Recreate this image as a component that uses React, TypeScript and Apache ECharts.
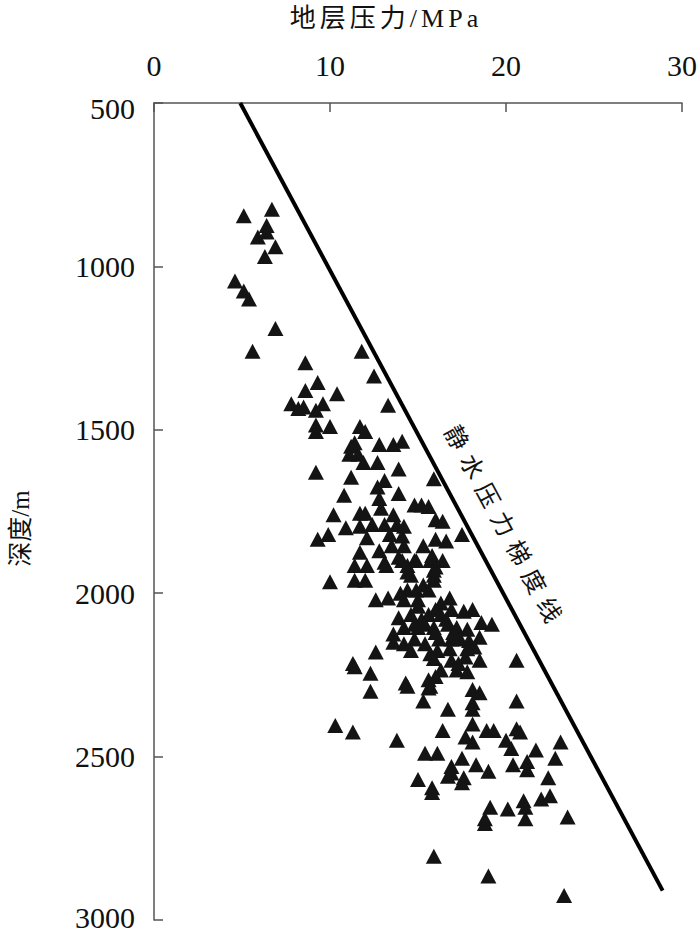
import { useEffect, useRef } from "react";
import * as echarts from "echarts";

// Formation pressure (MPa) and depth (m) of each measured point
const pressure = [
  5.1, 6.7, 6.4, 5.9, 6.4, 6.9, 6.3, 4.6, 5.1, 5.4, 6.9, 5.6, 11.8, 8.6, 12.5, 9.3, 8.6, 10.4, 7.8, 8.2,
  8.5, 9.2, 9.6, 13.3, 9.2, 10.0, 9.2, 11.7, 12.0, 11.2, 11.4, 12.8, 13.6, 14.1, 11.1, 11.6, 11.9, 12.7, 9.2, 11.2,
  13.9, 13.1, 12.7, 10.8, 13.9, 15.9, 12.8, 12.9, 14.8, 15.2, 15.6, 10.2, 11.7, 12.0, 13.6, 16.0, 16.4, 10.9, 11.7, 12.4,
  13.1, 13.8, 14.2, 9.3, 9.9, 12.1, 13.4, 14.1, 16.0, 16.6, 15.3, 11.7, 12.8, 13.5, 14.2, 15.8, 11.4, 12.1, 13.1, 13.9,
  14.9, 14.4, 16.4, 16.0, 11.4, 12.0, 14.6, 10.0, 15.9, 14.4, 14.9, 15.6, 12.6, 13.3, 14.2, 15.0, 16.3, 13.9, 14.6, 15.6,
  16.3, 14.2, 15.0, 15.9, 13.6, 14.1, 14.8, 15.7, 13.2, 14.4, 15.9, 15.9, 16.0, 16.9, 17.6, 18.1, 18.6, 19.2, 14.8, 15.4,
  16.7, 17.2, 17.8, 16.0, 13.6, 14.2, 14.8, 15.4, 16.2, 16.9, 17.4, 17.9, 18.5, 15.7, 16.8, 17.8, 18.2, 15.9, 16.9, 17.7,
  18.5, 16.3, 17.2, 17.8, 14.3, 15.6, 15.7, 18.1, 18.5, 15.3, 16.7, 18.1, 12.6, 11.3, 11.4, 12.3, 14.4, 12.3, 16.0, 15.6,
  10.3, 11.3, 13.8, 16.4, 15.4, 16.1, 15.0, 15.8, 16.7, 20.6, 20.6, 18.1, 18.1, 18.9, 19.3, 20.6, 20.8, 17.7, 18.1, 20.0,
  20.3, 21.7, 23.1, 22.8, 21.2, 20.4, 17.5, 18.3, 16.9, 16.9, 19.0, 21.2, 17.6, 17.5, 22.4, 22.0, 22.5, 21.0, 21.1, 19.1,
  20.1, 23.5, 18.8, 21.1, 15.8, 18.8, 15.9, 19.0, 23.3, 17.5, 15.0, 16.6, 17.0, 14.0, 15.3, 16.8, 15.2, 14.6, 17.3, 16.1,
];
const depth = [
  845, 825, 875, 910, 895, 940, 970, 1045, 1075, 1100, 1190, 1260, 1260, 1295, 1335, 1355, 1380, 1390, 1420, 1435,
  1430, 1440, 1420, 1425, 1485, 1490, 1505, 1490, 1505, 1550, 1540, 1545, 1545, 1535, 1575, 1575, 1600, 1600, 1630, 1645,
  1620, 1655, 1675, 1700, 1695, 1650, 1710, 1740, 1730, 1730, 1735, 1760, 1755, 1755, 1760, 1775, 1780, 1800, 1795, 1790,
  1790, 1790, 1795, 1835, 1820, 1830, 1820, 1825, 1835, 1840, 1855, 1875, 1870, 1855, 1855, 1885, 1915, 1915, 1905, 1890,
  1900, 1915, 1900, 1920, 1960, 1960, 1945, 1965, 1945, 1990, 1990, 1990, 2020, 2015, 2020, 2020, 2030, 2075, 2065, 2065,
  2065, 2105, 2105, 2105, 2125, 1900, 1900, 1900, 1915, 1935, 1930, 1960, 2050, 2050, 2055, 2050, 2090, 2095, 2095, 2095,
  2095, 2105, 2110, 2120, 2150, 2155, 2140, 2155, 2140, 2140, 2140, 2145, 2135, 2185, 2170, 2170, 2165, 2200, 2205, 2195,
  2205, 2235, 2235, 2240, 2275, 2265, 2285, 2295, 2305, 2330, 2355, 2335, 2180, 2215, 2225, 2245, 2285, 2300, 2255, 2290,
  2405, 2425, 2450, 2420, 2490, 2490, 2570, 2595, 2560, 2205, 2330, 2355, 2400, 2420, 2420, 2415, 2425, 2440, 2455, 2450,
  2475, 2480, 2455, 2505, 2515, 2525, 2505, 2525, 2530, 2550, 2545, 2540, 2565, 2580, 2565, 2630, 2620, 2635, 2655, 2655,
  2660, 2685, 2690, 2690, 2610, 2705, 2805, 2865, 2925, 1820, 2040, 2080, 2120, 2000, 1975, 2015, 2080, 2175, 2215, 2175,
];

// Hydrostatic pressure gradient line end points
const hydroPressure = [4.9, 28.9];
const hydroDepth = [500, 2910];
const hydroLabel = "静水压力梯度线";
const hydroLabelAt = [19.8, 1789];

const xTitle = "地层压力/MPa";
const yTitle = "深度/m";
const xRange = [0, 30, 10];
const yRange = [500, 3000, 500];

const FONT = "'Liberation Serif', 'Noto Sans CJK SC', serif";

const spaced = (s: string) => s.split("").map((ch) => `{c|${ch}}`).join("");

export default function App() {
  const ref = useRef<HTMLDivElement>(null);
  useEffect(() => {
    if (!ref.current) return;
    const chart = echarts.init(ref.current, null, { renderer: "svg" });
    const points = pressure.map((p, i) => [p, depth[i]]);
    const axisColor = "#555";
    chart.setOption({
      animation: false,
      backgroundColor: "#fff",
      textStyle: { fontFamily: FONT },
      grid: { left: 147, right: 14, top: 99, bottom: 5, containLabel: false },
      xAxis: {
        type: "value",
        position: "top",
        min: xRange[0],
        max: xRange[1],
        interval: xRange[2],
        name: spaced(xTitle),
        nameLocation: "middle",
        nameGap: 72,
        nameTextStyle: {
          fontSize: 26,
          color: "#111",
          fontFamily: FONT,
          padding: [0, 68, 0, 0],
          rich: { c: { fontSize: 26, color: "#111", fontFamily: FONT, padding: [0, 2, 0, 2] } },
        },
        axisLine: { show: true, lineStyle: { color: axisColor, width: 1.5 } },
        axisTick: { show: true, inside: true, length: 9, lineStyle: { color: axisColor, width: 1.5 } },
        axisLabel: { fontSize: 30, color: "#111", margin: 23, fontFamily: FONT },
        splitLine: { show: false },
      },
      yAxis: {
        type: "value",
        inverse: true,
        min: yRange[0],
        max: yRange[1],
        interval: yRange[2],
        name: yTitle,
        nameLocation: "middle",
        nameGap: 121,
        nameTextStyle: { fontSize: 25, color: "#111", fontFamily: FONT, padding: [0, 34, 0, 0] },
        axisLine: { show: true, lineStyle: { color: axisColor, width: 1.5 } },
        axisTick: { show: true, inside: true, length: 9, lineStyle: { color: axisColor, width: 1.5 } },
        axisLabel: {
          fontSize: 30,
          color: "#111",
          margin: 19,
          fontFamily: FONT,
          formatter: (v: number) =>
            v === yRange[0] ? `{lo|${v}}` : v === yRange[1] ? `{hi|${v}}` : `${v}`,
          rich: {
            lo: { fontSize: 30, color: "#111", fontFamily: FONT, padding: [10, 0, 0, 0] },
            hi: { fontSize: 30, color: "#111", fontFamily: FONT, padding: [0, 0, 6, 0] },
          },
        },
        splitLine: { show: false },
      },
      series: [
        {
          type: "scatter",
          data: points,
          symbol: "triangle",
          symbolSize: [16, 15],
          itemStyle: { color: "#141414", opacity: 1 },
        },
        {
          type: "line",
          data: [
            [hydroPressure[0], hydroDepth[0]],
            [hydroPressure[1], hydroDepth[1]],
          ],
          symbol: "none",
          lineStyle: { color: "#000", width: 4 },
        },
      ],
    });
    const a = chart.convertToPixel({ gridIndex: 0 }, [hydroPressure[0], hydroDepth[0]]) as number[];
    const b = chart.convertToPixel({ gridIndex: 0 }, [hydroPressure[1], hydroDepth[1]]) as number[];
    const c = chart.convertToPixel({ gridIndex: 0 }, hydroLabelAt) as number[];
    const ang = Math.atan2(b[1] - a[1], b[0] - a[0]);
    chart.setOption({
      graphic: [
        {
          type: "text",
          x: c[0],
          y: c[1],
          rotation: -ang,
          style: {
            text: spaced(hydroLabel),
            align: "center",
            verticalAlign: "middle",
            rich: {
              c: { fontSize: 24, fontFamily: FONT, fill: "#111", color: "#111", padding: [0, 4.3, 0, 4.3] },
            },
            fill: "#111",
            fontSize: 24,
            fontFamily: FONT,
          },
        },
      ],
    });
    return () => chart.dispose();
  }, []);
  return (
    <div
      ref={ref}
      style={{ position: "absolute", left: 0, top: 0, width: 700, height: 932, background: "#fff" }}
    />
  );
}
